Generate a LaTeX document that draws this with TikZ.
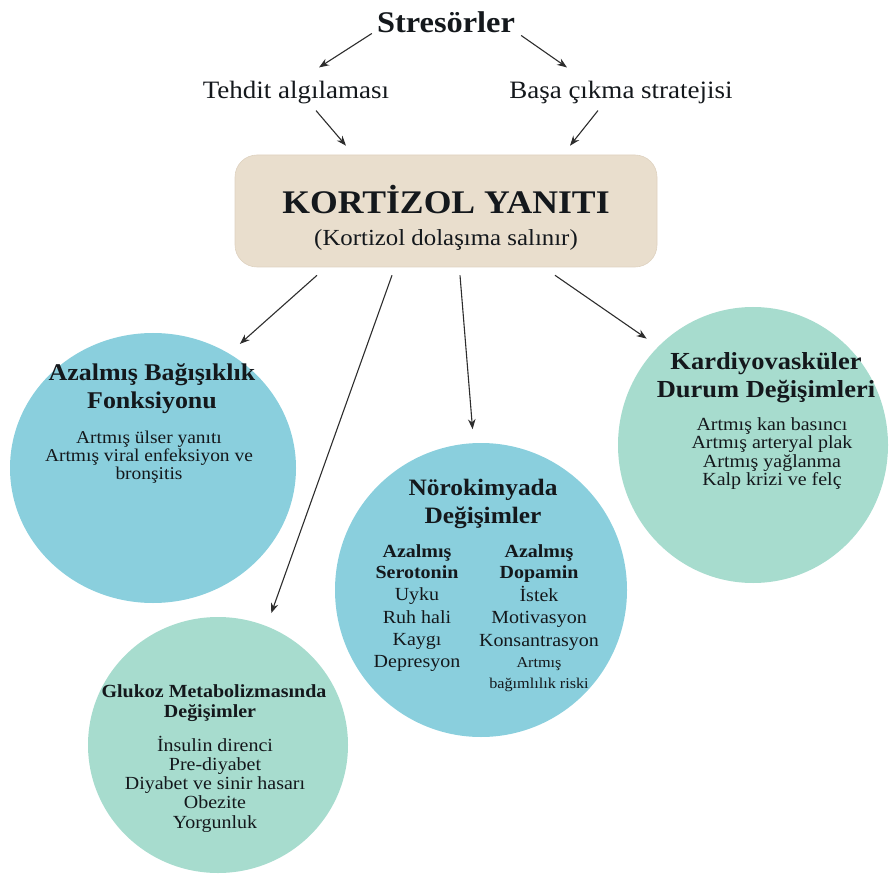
\documentclass[tikz,border=0pt]{standalone}
\usepackage{fontspec}
\setmainfont{Liberation Serif}[FakeStretch=1.08]
\usetikzlibrary{shapes.geometric,arrows.meta}
\definecolor{boxbeige}{RGB}{233,222,205}
\definecolor{boxedge}{RGB}{222,210,192}
\definecolor{cblue}{RGB}{138,207,221}
\definecolor{cmint}{RGB}{167,220,206}
\definecolor{ink}{RGB}{20,24,28}
\definecolor{arrowgray}{RGB}{45,45,45}
\newcommand{\fsz}[1]{\fontsize{#1}{#1}\selectfont}
\begin{document}
\begin{tikzpicture}[x=1pt,y=-1pt,
  lbl/.style={inner sep=0pt, anchor=base, text=ink},
  circ/.style={ellipse, inner sep=0pt, outer sep=14pt, draw=none},
  arr/.style={draw=arrowgray, line width=1.1pt, -{Stealth[length=10pt,width=7.5pt]}},
  ttl/.style={lbl, font=\fsz{#1}\bfseries},
  txt/.style={lbl, font=\fsz{#1}},
]
\useasboundingbox (0,0) rectangle (891,874);

% circles
\node[circ, fill=cblue, minimum width=286pt, minimum height=270pt] (azal) at (153,468) {};
\node[circ, fill=cmint, minimum width=270pt, minimum height=276pt] (kard) at (753,445) {};
\node[circ, fill=cblue, minimum width=292pt, minimum height=294pt] (neuro) at (481,590) {};
\node[circ, fill=cmint, minimum width=260pt, minimum height=256pt] (gluk) at (218,745) {};

% central box
\node[fill=boxbeige, draw=boxedge, line width=0.6pt, rounded corners=22pt,
      minimum width=422pt, minimum height=112pt, inner sep=0pt] (kbox) at (446,211) {};
\node[ttl=33] (ktitle) at (446,214) {KORTİZOL YANITI};
\node[txt=23] (ksub) at (446,246) {(Kortizol dolaşıma salınır)};

% top labels
\node[ttl=30] (str) at (446,33) {Stresörler};
\node[txt=25] (teh) at (296,99) {Tehdit algılaması};
\node[txt=25] (basa) at (621,99) {Başa çıkma stratejisi};

% top arrows
\draw[arr] ([xshift=-5pt]str.south west) -- ([xshift=23pt,yshift=14pt]teh.north);
\draw[arr] ([xshift=6pt,yshift=-2pt]str.south east) -- ([xshift=-54pt,yshift=14pt]basa.north);
\draw[arr] ([xshift=20pt,yshift=-6pt]teh.south) -- ([xshift=-100pt,yshift=9pt]kbox.north);
\draw[arr] ([xshift=-23pt,yshift=-6pt]basa.south) -- ([xshift=124pt,yshift=9pt]kbox.north);

% box arrows
\draw[arr] ([xshift=-129pt,yshift=-8pt]kbox.south) -- (azal.55);
\draw[arr] ([xshift=-54pt,yshift=-8pt]kbox.south) -- (gluk.68);
\draw[arr] ([xshift=14pt,yshift=-8pt]kbox.south) -- (neuro.93);
\draw[arr] ([xshift=109pt,yshift=-8pt]kbox.south) -- (kard.135);

% Azalmis
\node[ttl=24] (az1) at (152,381) {Azalmış Bağışıklık};
\node[ttl=24] (az2) at (152,408) {Fonksiyonu};
\node[txt=18] (az3) at (149,443) {Artmış ülser yanıtı};
\node[txt=18] (az4) at (149,461) {Artmış viral enfeksiyon ve};
\node[txt=18] (az5) at (149,479) {bronşitis};

% Kardiyovaskuler
\node[ttl=24.5] (kd1) at (766,370) {Kardiyovasküler};
\node[ttl=24.5] (kd2) at (766,397) {Durum Değişimleri};
\node[txt=18.5] (kd3) at (772,430) {Artmış kan basıncı};
\node[txt=18.5] (kd4) at (772,448.5) {Artmış arteryal plak};
\node[txt=18.5] (kd5) at (772,467) {Artmış yağlanma};
\node[txt=18.5] (kd6) at (772,485.5) {Kalp krizi ve felç};

% Norokimyada
\node[ttl=23.5] (nr1) at (483,495) {Nörokimyada};
\node[ttl=23.5] (nr2) at (483,523) {Değişimler};
\node[ttl=18.5] (nl1) at (417,557) {Azalmış};
\node[ttl=18.5] (nl2) at (417,578) {Serotonin};
\node[txt=18.5] (nl3) at (417,600) {Uyku};
\node[txt=18.5] (nl4) at (417,623) {Ruh hali};
\node[txt=18.5] (nl5) at (417,645) {Kaygı};
\node[txt=18.5] (nl6) at (417,667) {Depresyon};
\node[ttl=18.5] (nd1) at (539,557) {Azalmış};
\node[ttl=18.5] (nd2) at (539,578) {Dopamin};
\node[txt=18.5] (nd3) at (539,601) {İstek};
\node[txt=18.5] (nd4) at (539,623) {Motivasyon};
\node[txt=18.5] (nd5) at (539,646) {Konsantrasyon};
\node[txt=15] (nd6) at (539,667) {Artmış};
\node[txt=15] (nd7) at (539,688) {bağımlılık riski};

% Glukoz
\node[ttl=18.5] (gl1) at (214,697) {Glukoz Metabolizmasında};
\node[ttl=18.5] (gl2) at (210,717) {Değişimler};
\node[txt=18.5] (gl3) at (215,751) {İnsulin direnci};
\node[txt=18.5] (gl4) at (215,770) {Pre-diyabet};
\node[txt=18.5] (gl5) at (215,789) {Diyabet ve sinir hasarı};
\node[txt=18.5] (gl6) at (215,808) {Obezite};
\node[txt=18.5] (gl7) at (215,828) {Yorgunluk};
\end{tikzpicture}
\end{document}
